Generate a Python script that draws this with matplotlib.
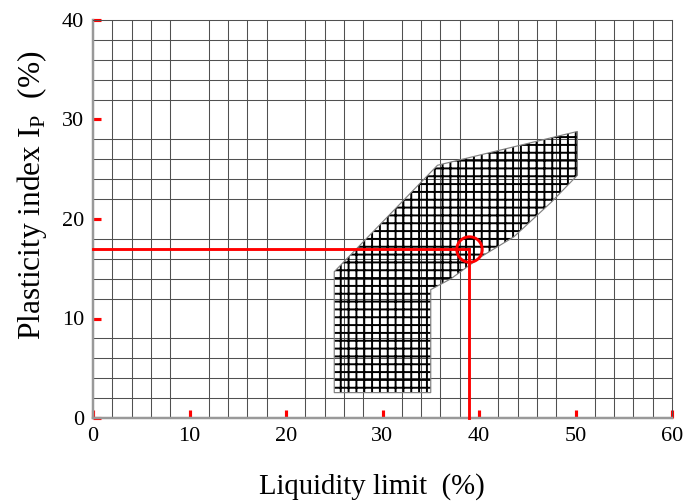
import numpy as np
import matplotlib
matplotlib.use("Agg")
import matplotlib.pyplot as plt
from matplotlib.patches import Polygon

# 塑性図のデータ
poly_x = [25, 25, 35.7, 50.2, 50.2, 47.5, 43.6, 40.2, 37.1, 35, 35]
poly_y = [2.55, 14.7, 25.4, 28.8, 24.4, 21.7, 18.2, 16.2, 14.0, 12.9, 2.55]
point_ll = 39   # 液性限界
point_ip = 17   # 塑性指数
x_ticks = [0, 10, 20, 30, 40, 50, 60]
y_ticks = [0, 10, 20, 30, 40]

plt.rcParams['font.family'] = ['Liberation Serif', 'DejaVu Serif']
plt.rcParams['mathtext.fontset'] = 'custom'
plt.rcParams['mathtext.rm'] = 'Liberation Serif'
plt.rcParams['hatch.linewidth'] = 1.5

dpi = 94  # ハッチ間隔を合わせるため
fig = plt.figure(figsize=(688 / dpi, 501 / dpi), dpi=dpi)
ax = fig.add_axes([93 / 688, 1 - 418 / 501, 579 / 688, 398 / 501])

ax.set_xlim(0, 60)
ax.set_ylim(0, 40)

# グリッド（2単位ごと）
ax.set_xticks(np.arange(0, 61, 2), minor=True)
ax.set_yticks(np.arange(0, 41, 2), minor=True)
ax.grid(which='minor', color='#505050', linewidth=0.8, zorder=0)
ax.tick_params(which='minor', length=0)

ax.set_xticks(x_ticks)
ax.set_yticks(y_ticks)
ax.tick_params(which='major', direction='in', length=6, width=2.4, color='red',
               labelsize=17, pad=7)

for side in ['left', 'bottom']:
    ax.spines[side].set_color('#999999')
    ax.spines[side].set_linewidth(1.9)
for side in ['top', 'right']:
    ax.spines[side].set_color('#505050')
    ax.spines[side].set_linewidth(0.8)

# ハッチング領域
pts = np.column_stack([poly_x, poly_y])
ax.add_patch(Polygon(pts, closed=True, facecolor='none', edgecolor='black',
                     linewidth=0, hatch='++', zorder=2))
ax.add_patch(Polygon(pts, closed=True, facecolor='none', edgecolor='#808080',
                     linewidth=0.9, zorder=3))

# 赤線と丸
ax.plot([0, point_ll], [point_ip, point_ip], color='red', linewidth=2.2, zorder=4,
        clip_on=False)
ax.plot([point_ll, point_ll], [0, point_ip], color='red', linewidth=2.2, zorder=4,
        clip_on=False)
ax.plot([point_ll], [point_ip], marker='o', markersize=19.5, markerfacecolor='none',
        markeredgecolor='red', markeredgewidth=2.2, zorder=5)

ax.set_xlabel('Liquidity limit  (%)', fontsize=22)
ax.xaxis.set_label_coords((372 - 93) / 579, (418 - 487) / 398)
ax.xaxis.label.set_va('center')
ax.set_ylabel(r'Plasticity index I$_\mathrm{P}$  (%)', fontsize=24)
ax.yaxis.set_label_coords((32 - 93) / 579, (418 - 195) / 398)
ax.yaxis.label.set_va('center')

fig.savefig('out.png', dpi=dpi)
